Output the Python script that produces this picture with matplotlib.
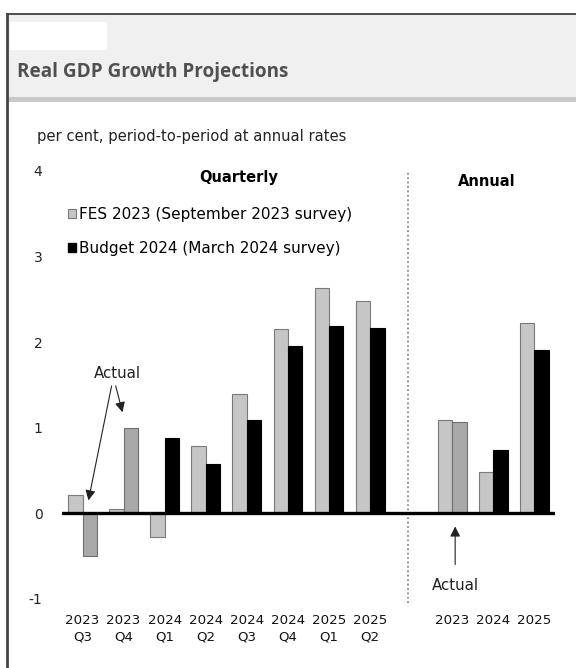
import matplotlib.pyplot as plt
from matplotlib.patches import Rectangle, Patch
from matplotlib.lines import Line2D

plt.rcParams['font.family'] = ['DejaVu Sans']

quarters = ["2023\nQ3", "2023\nQ4", "2024\nQ1", "2024\nQ2",
            "2024\nQ3", "2024\nQ4", "2025\nQ1", "2025\nQ2"]
years = ["2023", "2024", "2025"]
fes_q = [0.22, 0.05, -0.27, 0.79, 1.40, 2.16, 2.63, 2.48]
budget_q = [-0.50, 1.00, 0.88, 0.58, 1.09, 1.95, 2.19, 2.17]
fes_a = [1.09, 0.48, 2.22]
budget_a = [1.07, 0.74, 1.91]
actual_q = [True, True, False, False, False, False, False, False]
actual_a = [True, False, False]

W, H = 576, 668


def fx(px):
    return px / W


def fy(py):
    return 1 - py / H


fig = plt.figure(figsize=(W / 100, H / 100), dpi=100)

# header band and frame
fig.add_artist(Rectangle((fx(7), fy(98)), 1, fy(14) - fy(98), transform=fig.transFigure,
                         facecolor='#f0f0f0', edgecolor='none', zorder=0))
fig.add_artist(Rectangle((fx(7), fy(102)), 1, fy(97) - fy(102), transform=fig.transFigure,
                         facecolor='#c9c9c9', edgecolor='none', zorder=0))
fig.add_artist(Rectangle((fx(10), fy(50)), fx(107) - fx(10), fy(22) - fy(50),
                         transform=fig.transFigure, facecolor='white', edgecolor='none', zorder=1))
fig.add_artist(Line2D([fx(7), 1], [fy(14), fy(14)], transform=fig.transFigure,
                      color='#333333', lw=1.2))
fig.add_artist(Line2D([fx(7), fx(7)], [fy(14), 0], transform=fig.transFigure,
                      color='#444444', lw=2))
fig.text(fx(17), fy(72), "Real GDP Growth Projections", fontsize=13.6, fontweight='bold',
         color='#505050', va='center', ha='left', family=['Open Sans', 'DejaVu Sans'])

fig.text(fx(37), fy(137), "per cent, period-to-period at annual rates", fontsize=10.6,
         color='#222222', va='center', ha='left')

ax = fig.add_axes([fx(62), fy(599), fx(555) - fx(62), fy(171) - fy(599)])
ax.set_xlim(-0.5, 11.5)
ax.set_ylim(-1, 4)
for s in ax.spines.values():
    s.set_visible(False)

w = 0.35
xq = list(range(len(quarters)))
xa = [9 + i for i in range(len(years))]

fes_style = dict(color='#c6c6c6', edgecolor='#7a7a7a', linewidth=0.8)
ax.bar([x - w / 2 for x in xq], fes_q, w, **fes_style, zorder=2)
ax.bar([x - w / 2 for x in xa], fes_a, w, **fes_style, zorder=2)
for xs, vals, act in ((xq, budget_q, actual_q), (xa, budget_a, actual_a)):
    for x, v, a in zip(xs, vals, act):
        if a:
            ax.bar(x + w / 2, v, w, color='#a9a9a9', edgecolor='#6e6e6e', linewidth=0.8, zorder=2)
        else:
            ax.bar(x + w / 2, v, w, color='black', edgecolor='black', linewidth=0.8, zorder=2)

ax.axhline(0, color='black', lw=2.4, zorder=3)
ax.plot([7.93, 7.93], [-1.05, 4.0], ls=':', color='#777777', lw=1.2, clip_on=False)

ax.set_yticks([-1, 0, 1, 2, 3, 4])
ax.set_yticklabels(['-1', '0', '1', '2', '3', '4'])
ax.set_xticks(xq + xa)
ax.set_xticklabels(quarters + years, va='top', linespacing=1.3)
ax.tick_params(axis='y', length=0, pad=14, labelsize=10, labelcolor='#222222')
ax.tick_params(axis='x', length=0, pad=11, labelsize=9.6, labelcolor='#111111')

ax.text(3.79, 3.92, "Quarterly", fontsize=10.5, fontweight='bold', ha='center', va='center')
ax.text(9.85, 3.88, "Annual", fontsize=10.5, fontweight='bold', ha='center', va='center')

arrow = dict(arrowstyle='-|>', color='#222222', lw=0.8, mutation_scale=15)
ax.text(0.84, 1.64, "Actual", fontsize=10.8, ha='center', va='center', color='#222222')
ax.annotate('', xy=(0.13, 0.12), xytext=(0.72, 1.52), arrowprops=arrow)
ax.annotate('', xy=(0.99, 1.15), xytext=(0.79, 1.52), arrowprops=arrow)
ax.text(9.07, -0.84, "Actual", fontsize=10.8, ha='center', va='center', color='#222222')
ax.annotate('', xy=(9.07, -0.12), xytext=(9.07, -0.63), arrowprops=arrow)

handles = [Patch(facecolor='#c6c6c6', edgecolor='#7a7a7a', linewidth=0.8),
           Patch(facecolor='black', edgecolor='black')]
fig.legend(handles, ["FES 2023 (September 2023 survey)", "Budget 2024 (March 2024 survey)"],
           loc='upper left', bbox_to_anchor=(fx(68), fy(207)), frameon=False,
           fontsize=11, handlelength=0.5, handleheight=0.5, handletextpad=0.2,
           labelspacing=1.25, borderpad=0, borderaxespad=0)

fig.savefig('out.png', dpi=100)
